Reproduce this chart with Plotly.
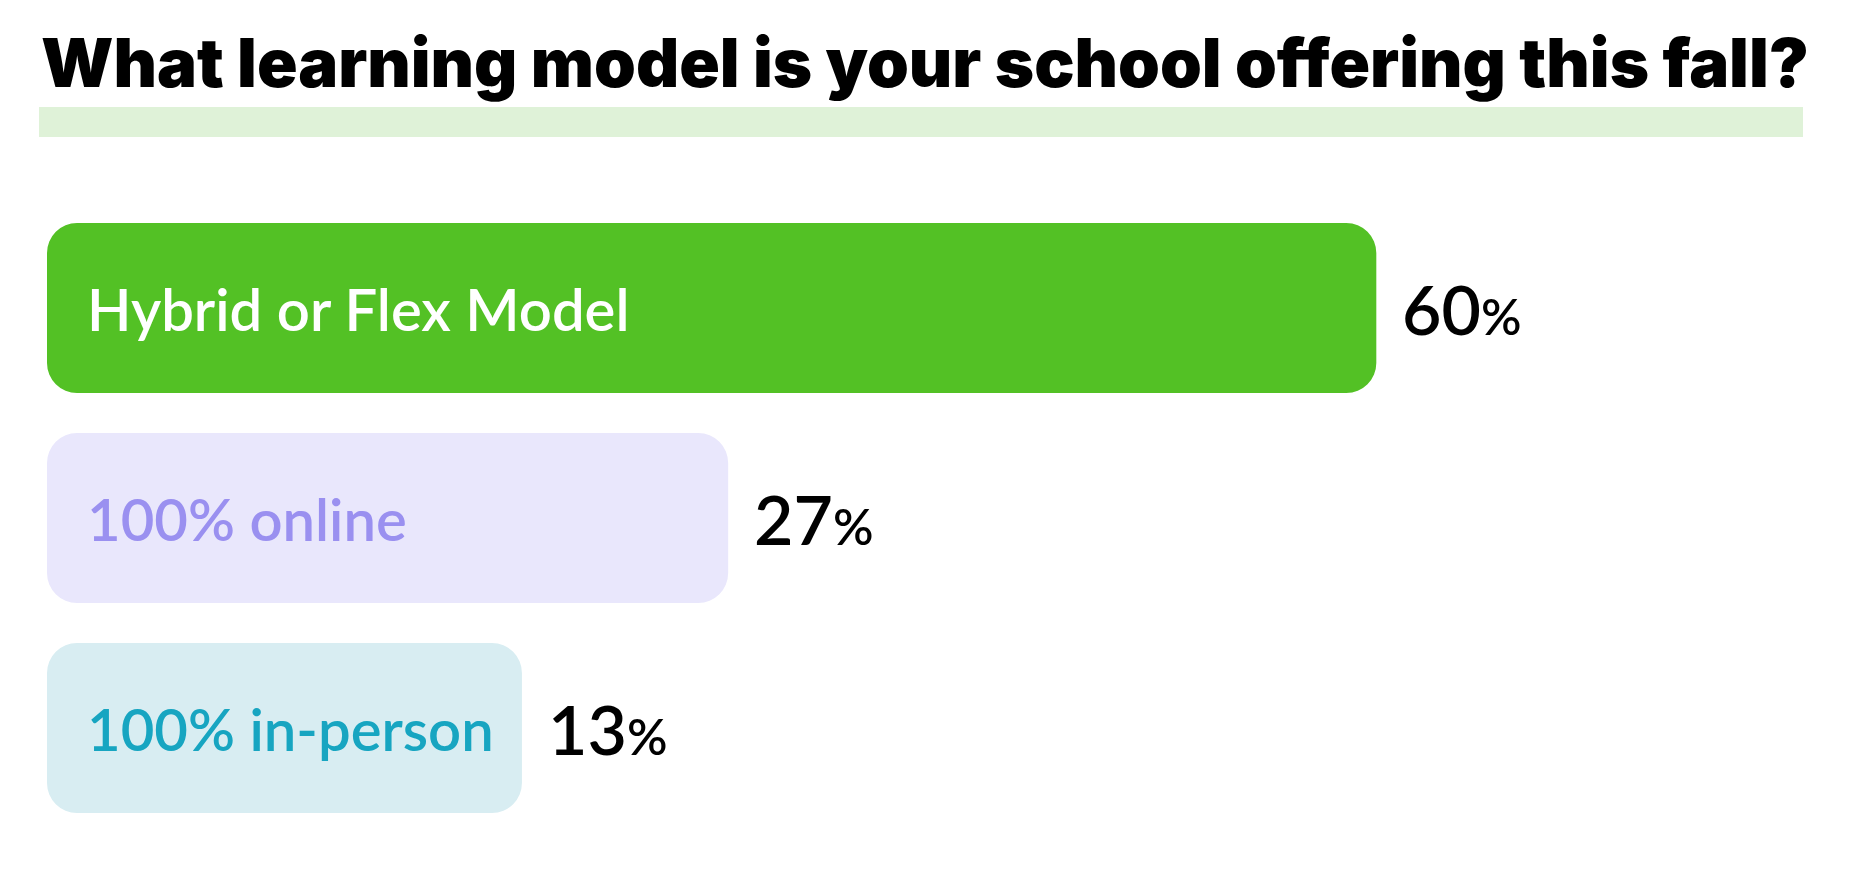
import plotly.graph_objects as go

# ---- data ----
categories = ["Hybrid or Flex Model", "100% online", "100% in-person"]
values = [60, 27, 13]
bar_colors = ["#53c125", "#e9e7fc", "#d8edf2"]
label_colors = ["#ffffff", "#9a90f0", "#17a5c1"]
title_text = "What learning model is your school offering this fall?"

# ---- style constants ----
W, H = 1845, 870      # page body has an 8px margin
PAD = 7.68            # extra bar length to the left of zero (data units)
MIN_LEN = 16.5        # minimum bar end so the inside label fits
XMIN, XMAX = -9.666, 84.27
YTOP, YBOT = -1.4286, 2.714
RADIUS = 30
LABEL_FONT = "Lato"
TITLE_FONT = "Inter"

ypos = list(range(len(categories)))
ends = [max(v, MIN_LEN) for v in values]

fig = go.Figure()
fig.add_trace(go.Bar(
    y=ypos, x=[e + PAD for e in ends], base=[-PAD] * len(values), orientation="h",
    marker=dict(color=bar_colors, cornerradius=RADIUS, line=dict(width=0)),
    width=0.81, hoverinfo="skip", showlegend=False,
))

annotations = []
for i, (cat, v, e) in enumerate(zip(categories, values, ends)):
    annotations.append(dict(
        x=-PAD, y=i, xref="x", yref="y", text=cat, showarrow=False,
        xanchor="left", yanchor="middle", xshift=38, yshift=0,
        font=dict(family=LABEL_FONT, size=58, color=label_colors[i], weight=600),
    ))
    annotations.append(dict(
        x=e, y=i, xref="x", yref="y",
        text=f"{v}<span style='font-size:50px'>%</span>", showarrow=False,
        xanchor="left", yanchor="middle", xshift=24, yshift=0,
        font=dict(family=LABEL_FONT, size=68, color="#000000", weight=600),
    ))

annotations.append(dict(
    x=31 / W, y=1 - 55 / H, xref="paper", yref="paper", text=title_text,
    showarrow=False, xanchor="left", yanchor="middle",
    font=dict(family=TITLE_FONT, size=67, color="#000000", weight=900),
))

fig.update_layout(
    width=W, height=H,
    margin=dict(l=0, r=0, t=0, b=0),
    paper_bgcolor="#ffffff", plot_bgcolor="#ffffff",
    barmode="overlay",
    xaxis=dict(range=[XMIN, XMAX], visible=False, fixedrange=True),
    yaxis=dict(range=[YBOT, YTOP], visible=False, fixedrange=True),
    annotations=annotations,
    shapes=[dict(
        type="rect", xref="paper", yref="paper",
        x0=31 / W, x1=1795 / W, y0=1 - 129 / H, y1=1 - 99 / H,
        fillcolor="#dff2d8", line=dict(width=0), layer="below",
    )],
)

fig.write_html("out.html")
